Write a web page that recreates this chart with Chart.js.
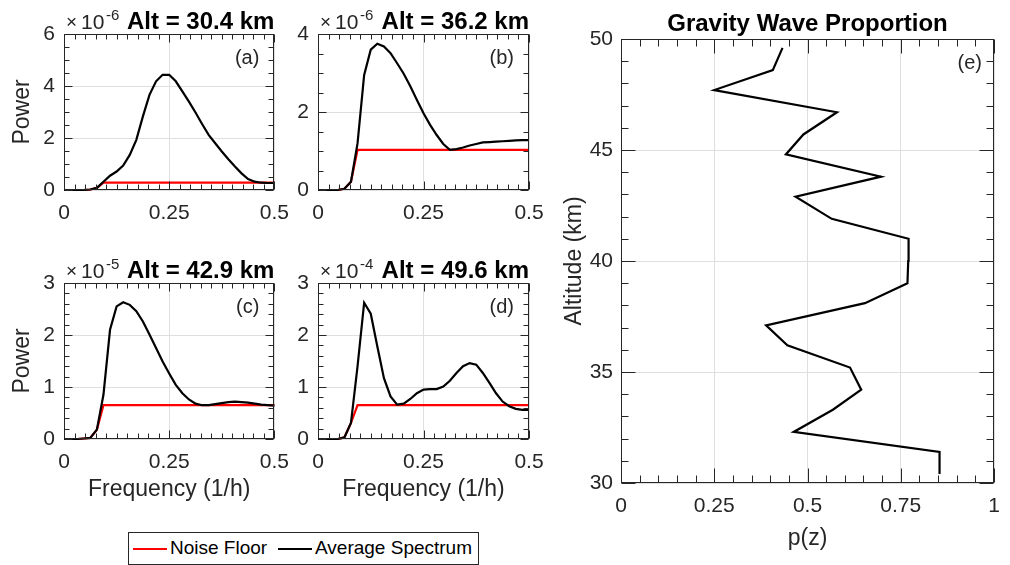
<!DOCTYPE html>
<html>
<head>
<meta charset="utf-8">
<script src="https://cdn.jsdelivr.net/npm/chart.js@4.4.1/dist/chart.umd.min.js"></script>
<style>
  body { margin: 0; background: #fff; }
  #wrap { position: relative; width: 1010px; height: 565px; overflow: hidden; background: #fff; }
  canvas { position: absolute; }
  #legend {
    position: absolute; left: 128px; top: 532px; width: 349px; height: 31px;
    border: 1px solid #262626; background: #fff;
    font: 19px 'Liberation Sans', Arial, sans-serif; color: #000;
  }
  #legend .sw { position: absolute; top: 15px; width: 34px; height: 2px; }
  #legend .txt { position: absolute; top: 5px; line-height: 20px; }
</style>
</head>
<body>
<div id="wrap">
  <canvas id="chartA" width="300" height="250" style="left:0;top:0"></canvas>
  <canvas id="chartB" width="265" height="250" style="left:290px;top:0"></canvas>
  <canvas id="chartC" width="300" height="270" style="left:0;top:250px"></canvas>
  <canvas id="chartD" width="265" height="270" style="left:290px;top:250px"></canvas>
  <canvas id="chartE" width="480" height="565" style="left:540px;top:0"></canvas>
  <div id="legend">
    <span class="sw" style="left:4px;background:#ff0000"></span>
    <span class="txt" style="left:41px">Noise Floor</span>
    <span class="sw" style="left:149px;background:#000"></span>
    <span class="txt" style="left:186px">Average Spectrum</span>
  </div>
</div>
<script>
// frequency grid (1/h)
const freq = [0, 0.015625, 0.03125, 0.046875, 0.0625, 0.078125, 0.09375, 0.109375,
  0.125, 0.140625, 0.15625, 0.171875, 0.1875, 0.203125, 0.21875, 0.234375,
  0.25, 0.265625, 0.28125, 0.296875, 0.3125, 0.328125, 0.34375, 0.359375,
  0.375, 0.390625, 0.40625, 0.421875, 0.4375, 0.453125, 0.46875, 0.484375, 0.5];

// (a) Alt = 30.4 km, x10^-6
const specA = [0, 0, 0, 0, 0.02, 0.08, 0.32, 0.55, 0.71, 0.94, 1.35, 1.93, 2.83, 3.66, 4.18, 4.43,
  4.43, 4.18, 3.79, 3.40, 2.98, 2.54, 2.12, 1.80, 1.48, 1.18, 0.90, 0.64, 0.42, 0.32, 0.28, 0.27, 0.27];
const noiseA = [0, 0, 0, 0, 0.02, 0.08, 0.28, 0.28, 0.28, 0.28, 0.28, 0.28, 0.28, 0.28, 0.28, 0.28,
  0.28, 0.28, 0.28, 0.28, 0.28, 0.28, 0.28, 0.28, 0.28, 0.28, 0.28, 0.28, 0.28, 0.28, 0.28, 0.28, 0.28];

// (b) Alt = 36.2 km, x10^-6
const specB = [0, 0, 0, 0, 0.03, 0.21, 1.20, 2.95, 3.60, 3.75, 3.68, 3.51, 3.25, 2.98, 2.66, 2.31,
  1.97, 1.67, 1.41, 1.18, 1.03, 1.05, 1.09, 1.14, 1.18, 1.22, 1.23, 1.24, 1.25, 1.26, 1.27, 1.28, 1.28];
const noiseB = [0, 0, 0, 0, 0.03, 0.21, 1.03, 1.03, 1.03, 1.03, 1.03, 1.03, 1.03, 1.03, 1.03, 1.03,
  1.03, 1.03, 1.03, 1.03, 1.03, 1.03, 1.03, 1.03, 1.03, 1.03, 1.03, 1.03, 1.03, 1.03, 1.03, 1.03, 1.03];

// (c) Alt = 42.9 km, x10^-5
const specC = [0, 0, 0, 0.01, 0.02, 0.18, 0.85, 2.10, 2.55, 2.63, 2.58, 2.46, 2.26, 2.01, 1.75, 1.49,
  1.26, 1.04, 0.88, 0.76, 0.68, 0.65, 0.65, 0.67, 0.69, 0.71, 0.72, 0.71, 0.70, 0.68, 0.66, 0.65, 0.64];
const noiseC = [0, 0, 0, 0.01, 0.02, 0.18, 0.65, 0.65, 0.65, 0.65, 0.65, 0.65, 0.65, 0.65, 0.65, 0.65,
  0.65, 0.65, 0.65, 0.65, 0.65, 0.65, 0.65, 0.65, 0.65, 0.65, 0.65, 0.65, 0.65, 0.65, 0.65, 0.65, 0.65];

// (d) Alt = 49.6 km, x10^-4
const specD = [0, 0, 0, 0, 0.03, 0.31, 1.40, 2.62, 2.41, 1.78, 1.17, 0.82, 0.66, 0.68, 0.77, 0.88,
  0.95, 0.96, 0.96, 1.01, 1.12, 1.27, 1.40, 1.46, 1.43, 1.27, 1.08, 0.88, 0.72, 0.63, 0.58, 0.56, 0.56];
const noiseD = [0, 0, 0, 0, 0.03, 0.31, 0.65, 0.65, 0.65, 0.65, 0.65, 0.65, 0.65, 0.65, 0.65, 0.65,
  0.65, 0.65, 0.65, 0.65, 0.65, 0.65, 0.65, 0.65, 0.65, 0.65, 0.65, 0.65, 0.65, 0.65, 0.65, 0.65, 0.65];

// (e) gravity wave proportion vs altitude
const altitude = [30.4, 31.4, 32.3, 33.3, 34.2, 35.2, 36.2, 37.1, 38.1, 39.0, 40.0,
  41.0, 41.9, 42.9, 43.8, 44.8, 45.7, 46.7, 47.7, 48.6, 49.6];
const proportion = [0.854, 0.854, 0.463, 0.568, 0.644, 0.614, 0.446, 0.389, 0.654, 0.768, 0.770,
  0.771, 0.565, 0.468, 0.697, 0.442, 0.489, 0.579, 0.250, 0.407, 0.433];

const FONT = "'Liberation Sans', Arial, Helvetica, sans-serif";
const AXIS = '#262626';
const GRID = '#dfdfdf';
Chart.defaults.font.family = FONT;

function pairs(xs, ys) {
  return xs.map((x, i) => ({ x: x, y: ys[i] }));
}

function fmt(v) {
  return String(+Number(v).toFixed(4));
}

function tickValues(scale, step, major) {
  var out = [];
  var n = Math.round((scale.max - scale.min) / step);
  for (var i = 0; i <= n; i++) {
    var v = scale.min + i * step;
    var r = v / major;
    out.push({ v: v, major: Math.abs(r - Math.round(r)) < 1e-6 });
  }
  return out;
}

// box, inward ticks, titles, exponent and panel letter (MATLAB look)
const decor = {
  id: 'decor',
  afterDraw(chart, args, o) {
    const ctx = chart.ctx;
    const a = chart.chartArea;
    const xs = chart.scales.x, ys = chart.scales.y;
    const L = Math.round(a.left) + 0.5, R = Math.round(a.right) - 0.5;
    const T = Math.round(a.top) + 0.5, B = Math.round(a.bottom) - 0.5;
    ctx.save();
    ctx.strokeStyle = AXIS;
    ctx.lineWidth = 1;
    ctx.beginPath();
    tickValues(xs, o.minorX, o.majorX).forEach(t => {
      const px = Math.round(xs.getPixelForValue(t.v)) + 0.5;
      const len = t.major ? o.majorLen : o.minorLen;
      ctx.moveTo(px, B); ctx.lineTo(px, B - len);
      ctx.moveTo(px, T); ctx.lineTo(px, T + len);
    });
    tickValues(ys, o.minorY, o.majorY).forEach(t => {
      const py = Math.round(ys.getPixelForValue(t.v)) + 0.5;
      const len = t.major ? o.majorLen : o.minorLen;
      ctx.moveTo(L, py); ctx.lineTo(L + len, py);
      ctx.moveTo(R, py); ctx.lineTo(R - len, py);
    });
    ctx.stroke();
    ctx.strokeRect(L, T, R - L, B - T);

    ctx.textBaseline = 'alphabetic';
    if (o.exp) {
      ctx.fillStyle = AXIS;
      ctx.textAlign = 'left';
      ctx.font = '19px ' + FONT;
      ctx.fillText('\u00d7', a.left + 2, a.top - 6);
      ctx.font = '21px ' + FONT;
      ctx.fillText('10', a.left + 17, a.top - 5);
      ctx.font = '15px ' + FONT;
      ctx.fillText(o.exp, a.left + 42, a.top - 14);
    }
    ctx.fillStyle = '#000';
    ctx.font = 'bold 24px ' + FONT;
    if (o.titleCenter) {
      ctx.textAlign = 'center';
      ctx.fillText(o.title, (a.left + a.right) / 2, a.top - 8);
    } else {
      ctx.textAlign = 'right';
      ctx.fillText(o.title, a.right, a.top - 5);
    }
    ctx.font = '20px ' + FONT;
    ctx.fillStyle = AXIS;
    ctx.textAlign = 'right';
    ctx.fillText(o.letter, a.right - o.letterInset, a.top + 30);
    ctx.restore();
  }
};

function axisTitle(show, text, pad) {
  return { display: show, text: text, color: AXIS, font: { size: 23, family: FONT }, padding: pad };
}

function spectrumChart(id, spec, noise, o) {
  return new Chart(document.getElementById(id), {
    type: 'line',
    data: {
      datasets: [
        { label: 'Average Spectrum', data: pairs(freq, spec), borderColor: '#000', borderWidth: 2.2,
          pointRadius: 0, tension: 0, clip: false },
        { label: 'Noise Floor', data: pairs(freq, noise), borderColor: '#ff0000', borderWidth: 2.2,
          pointRadius: 0, tension: 0, clip: false }
      ]
    },
    options: {
      responsive: false,
      animation: false,
      events: [],
      layout: { padding: o.pad },
      plugins: {
        legend: { display: false },
        tooltip: { enabled: false },
        decor: { title: o.title, exp: o.exp, letter: o.letter, letterInset: 15,
          minorX: 0.025, majorX: 0.25, minorY: o.minorY, majorY: o.ystep, majorLen: 8, minorLen: 5 }
      },
      scales: {
        x: {
          type: 'linear', min: 0, max: 0.5,
          afterFit: s => { s.height = o.xh; },
          ticks: { stepSize: 0.25, padding: 11, color: AXIS, font: { size: 21 }, maxRotation: 0, callback: fmt },
          grid: { color: GRID, drawTicks: false },
          border: { display: false },
          title: axisTitle(o.xTitle, 'Frequency (1/h)', { bottom: 17 })
        },
        y: {
          type: 'linear', min: 0, max: o.ymax,
          afterFit: s => { s.width = o.yw; },
          ticks: { stepSize: o.ystep, padding: 9, color: AXIS, font: { size: 21 }, callback: fmt },
          grid: { color: GRID, drawTicks: false },
          border: { display: false },
          title: axisTitle(o.yTitle, 'Power', { top: 9 })
        }
      }
    },
    plugins: [decor]
  });
}

spectrumChart('chartA', specA, noiseA, {
  title: 'Alt = 30.4 km', exp: '-6', letter: '(a)', ymax: 6, ystep: 2, minorY: 0.5,
  pad: { left: 0, top: 34, right: 25, bottom: 0 }, yw: 64, xh: 60, xTitle: false, yTitle: true
});
spectrumChart('chartB', specB, noiseB, {
  title: 'Alt = 36.2 km', exp: '-6', letter: '(b)', ymax: 4, ystep: 2, minorY: 0.5,
  pad: { left: 0, top: 34, right: 26, bottom: 0 }, yw: 28, xh: 60, xTitle: false, yTitle: false
});
spectrumChart('chartC', specC, noiseC, {
  title: 'Alt = 42.9 km', exp: '-5', letter: '(c)', ymax: 3, ystep: 1, minorY: 0.2,
  pad: { left: 0, top: 33, right: 25, bottom: 0 }, yw: 64, xh: 81, xTitle: true, yTitle: true
});
spectrumChart('chartD', specD, noiseD, {
  title: 'Alt = 49.6 km', exp: '-4', letter: '(d)', ymax: 3, ystep: 1, minorY: 0.2,
  pad: { left: 0, top: 33, right: 26, bottom: 0 }, yw: 28, xh: 81, xTitle: true, yTitle: false
});

new Chart(document.getElementById('chartE'), {
  type: 'scatter',
  data: {
    datasets: [{
      label: 'p(z)', data: pairs(proportion, altitude), showLine: true,
      borderColor: '#000', borderWidth: 2.2, pointRadius: 0, tension: 0, clip: false
    }]
  },
  options: {
    responsive: false,
    animation: false,
    events: [],
    layout: { padding: { left: 0, top: 39, right: 26, bottom: 0 } },
    plugins: {
      legend: { display: false },
      tooltip: { enabled: false },
      decor: { title: 'Gravity Wave Proportion', titleCenter: true, letter: '(e)', letterInset: 12,
        minorX: 0.05, majorX: 0.25, minorY: 1, majorY: 5, majorLen: 14, minorLen: 7 }
    },
    scales: {
      x: {
        type: 'linear', min: 0, max: 1,
        afterFit: s => { s.height = 82; },
        ticks: { stepSize: 0.25, padding: 11, color: AXIS, font: { size: 21 }, maxRotation: 0, callback: fmt },
        grid: { color: GRID, drawTicks: false },
        border: { display: false },
        title: axisTitle(true, 'p(z)', { bottom: 13 })
      },
      y: {
        type: 'linear', min: 30, max: 50,
        afterFit: s => { s.width = 81; },
        ticks: { stepSize: 5, padding: 8, color: AXIS, font: { size: 21 }, callback: fmt },
        grid: { color: GRID, drawTicks: false },
        border: { display: false },
        title: axisTitle(true, 'Altitude (km)', { top: 21 })
      }
    }
  },
  plugins: [decor]
});
</script>
</body>
</html>
